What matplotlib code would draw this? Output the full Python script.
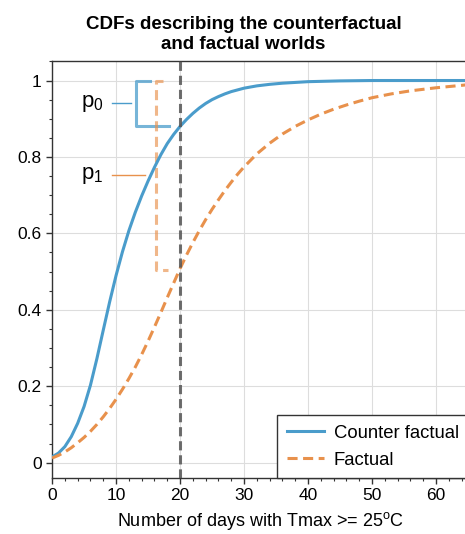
import matplotlib
matplotlib.use("Agg")
import matplotlib.pyplot as plt
from matplotlib.ticker import MultipleLocator, FixedLocator

plt.rcParams['font.family'] = ['Liberation Sans', 'DejaVu Sans']
plt.rcParams['mathtext.fontset'] = 'custom'
plt.rcParams['mathtext.rm'] = 'Liberation Sans'
plt.rcParams['mathtext.it'] = 'Liberation Sans:italic'

# CDF values
x_cf = [0, 1, 2, 3, 4, 5, 6, 7, 8, 9, 10, 11, 12, 13, 14, 15, 16, 17, 18, 19, 20,
        21, 22, 23, 24, 25, 26, 27, 28, 30, 32, 34, 36, 38, 40, 45, 50, 55, 60, 65]
counter_factual = [0.015, 0.025, 0.042, 0.068, 0.103, 0.147, 0.203, 0.272, 0.347, 0.421, 0.490,
                   0.552, 0.607, 0.655, 0.698, 0.737, 0.773, 0.806, 0.835, 0.859, 0.88,
                   0.898, 0.914, 0.928, 0.94, 0.95, 0.958, 0.965, 0.971, 0.98, 0.986,
                   0.99, 0.993, 0.995, 0.997, 0.999, 1.0, 1.0, 1.0, 1.0]
x_f = [0, 1, 2, 3, 4, 5, 6, 7, 8, 9, 10, 11, 12, 13, 14, 15, 16, 17, 18, 19, 20,
       21, 22, 23, 24, 25, 26, 27, 28, 29, 30, 32, 34, 36, 38, 40, 42, 44, 46, 48, 50,
       53, 56, 60, 65]
factual = [0.012, 0.019, 0.028, 0.039, 0.052, 0.066, 0.082, 0.10, 0.12, 0.142, 0.166,
           0.192, 0.22, 0.25, 0.283, 0.318, 0.355, 0.393, 0.432, 0.47, 0.508,
           0.543, 0.576, 0.607, 0.636, 0.663, 0.688, 0.712, 0.734, 0.755, 0.774,
           0.808, 0.836, 0.86, 0.88, 0.897, 0.912, 0.925, 0.936, 0.946, 0.955,
           0.965, 0.973, 0.981, 0.989]

threshold = 20
p0 = 0.88
p1 = 0.505

blue = '#4a9ccb'
orange = '#e8914c'

fig = plt.figure(figsize=(4.65, 5.34), dpi=100)
ax = fig.add_axes([0.112, 0.105, 0.8946, 0.78])

ax.plot(x_cf, counter_factual, color=blue, lw=2.2, label='Counter factual', zorder=3)
ax.plot(x_f, factual, color=orange, lw=2.2, ls=(0, (3.3, 1.8)), label='Factual', zorder=3)
ax.axvline(threshold, color='#555555', alpha=0.85, lw=2.2, ls=(0, (3, 1.6)), zorder=4)

# brackets for p0 and p1
ax.plot([15.3, 13.1, 13.1, 18.3], [1, 1, p0, p0], color=blue, alpha=0.75, lw=2.2, zorder=2)
ax.plot([17.4, 16.25, 16.25, 18.1], [1, 1, p1, p1], color=orange, alpha=0.65, lw=2.2,
        ls=(0, (3.3, 1.8)), zorder=2)
ax.plot([9.3, 12.4], [0.941, 0.941], color=blue, lw=1.0)
ax.plot([9.3, 14.5], [0.752, 0.752], color=orange, lw=1.0)
ax.text(8.0, 0.941, 'p$_0$', ha='right', va='center', fontsize=16)
ax.text(8.0, 0.752, 'p$_1$', ha='right', va='center', fontsize=16)

ax.set_xlim(0, 65)
ax.set_ylim(-0.04, 1.05)
ax.xaxis.set_major_locator(MultipleLocator(10))
ax.xaxis.set_minor_locator(MultipleLocator(2))
ax.yaxis.set_major_locator(FixedLocator([0, 0.2, 0.4, 0.6, 0.8, 1]))
ax.yaxis.set_minor_locator(MultipleLocator(0.05))
ax.set_yticklabels(['0', '0.2', '0.4', '0.6', '0.8', '1'])
ax.tick_params(which='major', direction='out', length=4, width=1, labelsize=12.5, color='#333333')
ax.tick_params(which='minor', direction='out', length=2.5, width=0.8, color='#333333')
ax.grid(True, which='major', color='#dddddd', lw=0.8)
ax.set_axisbelow(True)
for s in ax.spines.values():
    s.set_color('#333333')
    s.set_linewidth(1)

ax.set_xlabel(r'Number of days with Tmax >= 25$^\mathrm{o}$C', fontsize=13, labelpad=5)
ax.set_title('CDFs describing the counterfactual\nand factual worlds', fontsize=13.5,
             fontweight='bold', pad=9, x=0.46, linespacing=1.25)

leg = ax.legend(loc='lower right', bbox_to_anchor=(1.0, 0.0), fontsize=13.3,
                fancybox=False, framealpha=1, edgecolor='#333333', borderaxespad=0,
                handlelength=2.0, handletextpad=0.55, borderpad=0.5, labelspacing=0.55)
leg.get_frame().set_linewidth(1)

fig.savefig('out.png', dpi=100)
